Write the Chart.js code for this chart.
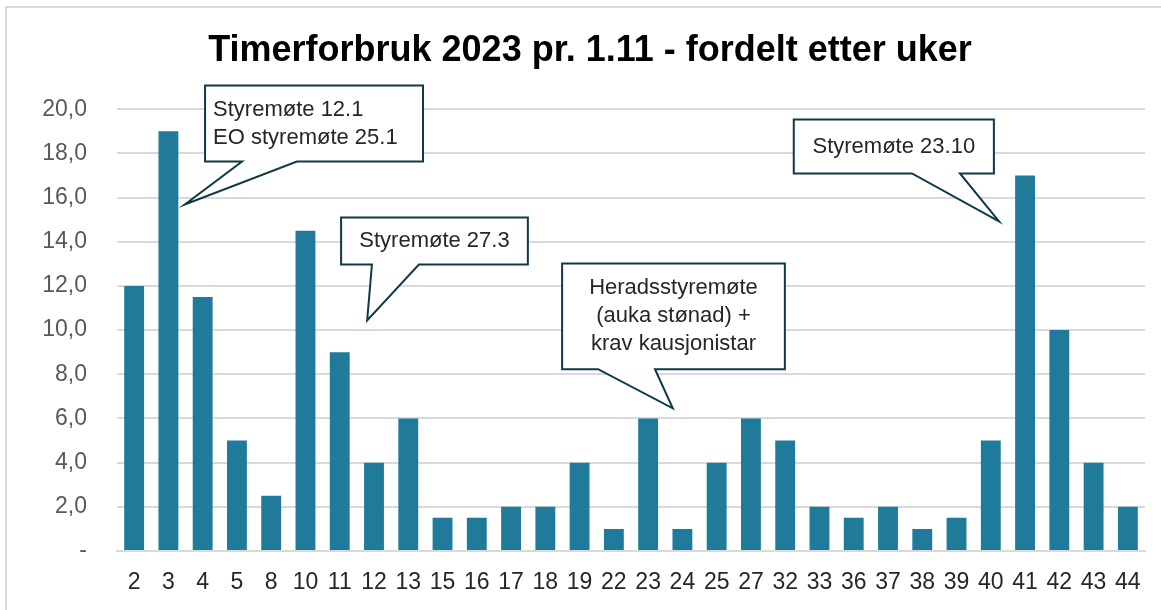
<!DOCTYPE html>
<html>
<head>
<meta charset="utf-8">
<script src="https://cdn.jsdelivr.net/npm/chart.js@4"></script>
<style>
  html, body { margin: 0; padding: 0; background: #fff; }
  #wrap { position: relative; width: 1161px; height: 610px; }
  #frame { position: absolute; left: 5px; top: 6px; right: 0; bottom: 0;
           border-left: 2px solid #d9d9d9; border-top: 2px solid #d9d9d9; }
  canvas { position: absolute; left: 0; top: 0; }
</style>
</head>
<body>
<div id="wrap">
  <div id="frame"></div>
  <canvas id="myChart" width="1161" height="610"></canvas>
</div>
<script>
/*---------------------------- data ------------------------------------*/
var weeks = ['2','3','4','5','8','10','11','12','13','15','16','17','18','19','22',
             '23','24','25','27','32','33','36','37','38','39','40','41','42','43','44'];
var hours = [12, 19, 11.5, 5, 2.5, 14.5, 9, 4, 6, 1.5, 1.5, 2, 2, 4, 1,
             6, 1, 4, 6, 5, 2, 1.5, 2, 1, 1.5, 5, 17, 10, 4, 2];
var yTicks = [0, 2, 4, 6, 8, 10, 12, 14, 16, 18, 20];

// callout texts, positions in data units (category index, hours)
var calloutText = [
  ['Styremøte 12.1', 'EO styremøte 25.1'],
  ['Styremøte 27.3'],
  ['Heradsstyremøte', '(auka stønad) +', 'krav kausjonistar'],
  ['Styremøte 23.10']
];
var calloutBox = [   // [x0, x1, yTop, yBottom]
  [2.07, 8.43, 21.07, 17.63],
  [6.04, 11.49, 15.10, 12.97],
  [12.49, 18.99, 13.02, 8.23],
  [19.25, 25.09, 19.53, 17.09]
];
var calloutTip = [   // [baseX0, baseX1, tipX, tipY]
  [3.15, 4.75, 1.48, 15.69],
  [6.94, 8.31, 6.80, 10.44],
  [13.54, 15.20, 15.72, 6.46],
  [22.70, 24.10, 25.24, 14.92]
];
var calloutAlign = ['left', 'center', 'center', 'center'];

/*---------------------------- callouts plugin ---------------------------*/
var callouts = {
  id: 'callouts',
  afterDatasetsDraw: function(chart) {
    var ctx = chart.ctx, xs = chart.scales.x, ys = chart.scales.y;
    ctx.save();
    for (var i = 0; i < calloutText.length; i++) {
      var b = calloutBox[i], t = calloutTip[i];
      var x0 = xs.getPixelForValue(b[0]), x1 = xs.getPixelForValue(b[1]);
      var y0 = ys.getPixelForValue(b[2]), y1 = ys.getPixelForValue(b[3]);
      var bx0 = xs.getPixelForValue(t[0]), bx1 = xs.getPixelForValue(t[1]);
      var tx = xs.getPixelForValue(t[2]), ty = ys.getPixelForValue(t[3]);
      ctx.beginPath();
      ctx.moveTo(x0, y0);
      ctx.lineTo(x1, y0);
      ctx.lineTo(x1, y1);
      ctx.lineTo(bx1, y1);
      ctx.lineTo(tx, ty);
      ctx.lineTo(bx0, y1);
      ctx.lineTo(x0, y1);
      ctx.closePath();
      ctx.fillStyle = '#ffffff';
      ctx.fill();
      ctx.lineWidth = 2;
      ctx.strokeStyle = '#0e3a45';
      ctx.stroke();

      var lines = calloutText[i];
      ctx.fillStyle = '#262626';
      ctx.font = '22px "Liberation Sans", Arial, sans-serif';
      ctx.textBaseline = 'middle';
      var lh = 28;
      var cy = (y0 + y1) / 2 - (lines.length - 1) * lh / 2;
      for (var j = 0; j < lines.length; j++) {
        if (calloutAlign[i] === 'left') {
          ctx.textAlign = 'left';
          ctx.fillText(lines[j], x0 + 8, cy + j * lh);
        } else {
          ctx.textAlign = 'center';
          ctx.fillText(lines[j], (x0 + x1) / 2, cy + j * lh);
        }
      }
    }
    ctx.restore();
  }
};

/*---------------------------- bar chart ------------------------------------*/
new Chart("myChart", {
  type: "bar",
  data: {
    labels: weeks,
    datasets: [{
      data: hours,
      backgroundColor: "#1f7b99",
      borderWidth: 0,
      barPercentage: 0.58,
      categoryPercentage: 1.0
    }]
  },
  options: {
    responsive: false,
    animation: false,
    layout: { padding: { left: 35, right: 16, top: 0, bottom: 0 } },
    plugins: {
      legend: { display: false },
      tooltip: { enabled: false },
      title: {
        display: true,
        text: "Timerforbruk 2023 pr. 1.11 - fordelt etter uker",
        color: "#000000",
        font: { family: '"Liberation Sans", Arial, sans-serif', size: 36, weight: 'bold' },
        padding: { top: 29, bottom: 37 }
      }
    },
    scales: {
      x: {
        afterFit: function(scale) { scale.height = 59; },
        grid: { display: false },
        border: { color: '#d9d9d9', width: 2 },
        ticks: {
          color: '#262626',
          font: { family: '"Liberation Sans", Arial, sans-serif', size: 23 },
          padding: 10,
          maxRotation: 0,
          autoSkip: false
        }
      },
      y: {
        min: 0,
        max: 20,
        afterFit: function(scale) { scale.width = 82; },
        afterBuildTicks: function(scale) {
          scale.ticks = yTicks.map(function(v) { return { value: v }; });
        },
        grid: { color: '#d9d9d9', lineWidth: 2, drawTicks: false },
        border: { display: false },
        ticks: {
          color: '#595959',
          font: { family: '"Liberation Sans", Arial, sans-serif', size: 23 },
          padding: 30,
          callback: function(v) {
            return v === 0 ? '-' : v.toFixed(1).replace('.', ',');
          }
        }
      }
    }
  },
  plugins: [callouts]
});
</script>
</body>
</html>
